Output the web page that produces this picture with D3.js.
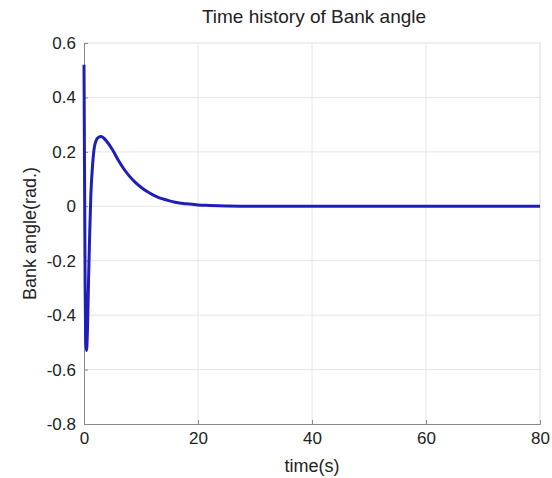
<!DOCTYPE html>
<html>
<head>
<meta charset="utf-8">
<script src="https://cdn.jsdelivr.net/npm/d3@7"></script>
<style>
  body { margin: 0; background: #fff; }
  text { font-family: "Liberation Sans", Arial, sans-serif; fill: #222; }
</style>
</head>
<body>
<svg id="chart" width="552" height="478"></svg>
<script>
const title = "Time history of Bank angle";
const xLabel = "time(s)";
const yLabel = "Bank angle(rad.)";
const xTicks = [0, 20, 40, 60, 80];
const yTicks = [-0.8, -0.6, -0.4, -0.2, 0, 0.2, 0.4, 0.6];
const timeS = [0, 0.1, 0.2, 0.3, 0.45, 0.6, 0.8, 1.0, 1.2, 1.5, 1.8, 2.1, 2.5, 3.0, 3.5, 4, 5, 6, 7, 8, 9, 10, 11, 12, 13, 14, 15, 16, 18, 20, 22, 25, 30, 40, 50, 60, 70, 80];
const bankAngle = [0.52, 0.1, -0.3, -0.5, -0.53, -0.46, -0.27, -0.1, 0.04, 0.15, 0.215, 0.24, 0.253, 0.256, 0.25, 0.238, 0.208, 0.17, 0.137, 0.11, 0.088, 0.07, 0.055, 0.043, 0.033, 0.026, 0.02, 0.015, 0.009, 0.005, 0.003, 0.001, 0, 0, 0, 0, 0, 0];

const svg = d3.select("#chart");
const m = { left: 84, right: 540, top: 43, bottom: 424 };
const x = d3.scaleLinear().domain([0, 80]).range([m.left, m.right]);
const y = d3.scaleLinear().domain([-0.8, 0.6]).range([m.bottom, m.top]);

// grid
const g = svg.append("g");
g.selectAll(".vg").data(xTicks.slice(1, -1)).enter().append("line")
  .attr("x1", d => x(d)).attr("x2", d => x(d))
  .attr("y1", m.top).attr("y2", m.bottom)
  .attr("stroke", "#e6e6e6").attr("stroke-width", 1);
g.selectAll(".hg").data(yTicks.slice(1, -1)).enter().append("line")
  .attr("x1", m.left).attr("x2", m.right)
  .attr("y1", d => y(d)).attr("y2", d => y(d))
  .attr("stroke", "#e6e6e6").attr("stroke-width", 1);

// frame top/right light
svg.append("line").attr("x1", m.left).attr("x2", m.right).attr("y1", m.top).attr("y2", m.top)
  .attr("stroke", "#e0e0e0");
svg.append("line").attr("x1", m.right).attr("x2", m.right).attr("y1", m.top).attr("y2", m.bottom)
  .attr("stroke", "#d8d8d8");

// axes
const xAxis = d3.axisBottom(x).tickValues(xTicks).tickSize(-4).tickPadding(8).tickFormat(d3.format("d"));
const yAxis = d3.axisLeft(y).tickValues(yTicks).tickSize(-4).tickPadding(8)
  .tickFormat(d => d === 0 ? "0" : d3.format(".1f")(d).replace("\u2212", "-"));
const xa = svg.append("g").attr("transform", `translate(0,${m.bottom})`).call(xAxis);
const ya = svg.append("g").attr("transform", `translate(${m.left},0)`).call(yAxis);
[xa, ya].forEach(a => {
  a.select(".domain").attr("stroke", "#888");
  a.selectAll(".tick line").attr("stroke", "#888");
  a.selectAll("text").style("font-family", "'Liberation Sans', Arial, sans-serif").style("font-size", "17px").attr("fill", "#222");
});

// line
svg.append("path").datum(timeS.map((t, i) => [t, bankAngle[i]]))
  .attr("d", d3.line().x(d => x(d[0])).y(d => y(d[1])).curve(d3.curveMonotoneX))
  .attr("fill", "none").attr("stroke", "#1f1fb8").attr("stroke-width", 3)
  .attr("stroke-linejoin", "round");

// labels
svg.append("text").attr("x", (m.left + m.right) / 2 + 2).attr("y", 23)
  .attr("text-anchor", "middle").style("font-size", "19px").text(title);
svg.append("text").attr("x", (m.left + m.right) / 2).attr("y", 472)
  .attr("text-anchor", "middle").style("font-size", "18px").text(xLabel);
svg.append("text").attr("transform", `translate(36,${(m.top + m.bottom) / 2}) rotate(-90)`)
  .attr("text-anchor", "middle").style("font-size", "18px").text(yLabel);
</script>
</body>
</html>
